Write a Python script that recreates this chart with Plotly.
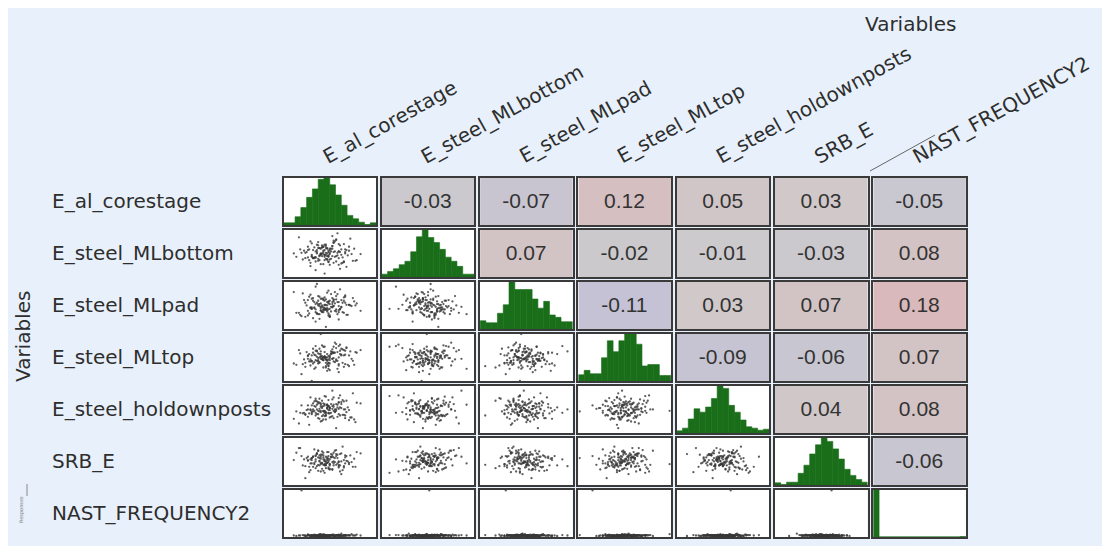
import plotly.graph_objects as go

# ---------------- data ----------------
variables = ["E_al_corestage", "E_steel_MLbottom", "E_steel_MLpad", "E_steel_MLtop",
             "E_steel_holdownposts", "SRB_E", "NAST_FREQUENCY2"]

# sample values (scaled 0-100) read as clouds from the scatter cells
E_al_corestage = [45,38,52,61,33,47,55,29,42,50, 67,40,36,58,49,44,71,31,53,46,
                  39,62,48,26,57,43,35,51,64,41, 47,54,22,59,37,49,45,68,32,56,
                  43,50,39,60,46,28,53,41,74,48, 36,57,44,63,34,51,47,40,55,30,
                  49,66,42,38,58,45,52,24,61,43, 37,50,46,56,33,48,70,41,54,39,
                  47,59,35,44,62,50,27,53,42,57, 45,36,65,49,40,52,31,48,43,55,
                  44,51,37,58,46,41,63,49,35,53, 48,42,56,39,60,45,50,33,57,47,
                  52,40,46,69,43,55,38,49,61,44, 36,54,47,41,59,50,43,65,46,52,
                  39,57,45,48,34,53,42,62,49,46]
E_steel_MLbottom = [52,44,61,37,55,48,70,41,58,33, 49,63,46,27,54,59,40,51,66,45,
                    38,56,50,74,43,57,31,53,47,62, 42,68,50,35,55,46,60,39,52,80,
                    48,57,25,44,63,51,36,58,49,41, 65,53,46,30,56,42,61,50,38,54,
                    47,72,40,59,52,34,57,45,64,49, 43,55,20,51,60,46,39,67,53,44,
                    58,48,36,62,50,41,56,69,47,33, 54,45,60,38,52,76,43,57,49,46,
                    50,57,43,62,48,39,55,45,68,52, 41,58,47,53,36,60,49,44,64,51,
                    46,55,40,57,50,71,43,52,38,59, 48,45,63,42,56,51,34,54,47,61,
                    44,53,49,58,40,66,46,52,37,55]
E_steel_MLpad = [40,55,47,62,35,51,44,68,30,57, 49,38,60,45,72,41,53,33,58,46,
                 26,63,50,39,55,43,66,48,36,52, 59,42,70,47,31,56,44,61,50,37,
                 53,45,78,40,57,34,49,64,42,55, 47,29,60,51,38,67,44,54,41,58,
                 35,50,63,46,74,43,52,39,57,48, 61,33,45,55,42,69,50,37,53,44,
                 18,58,47,40,65,52,36,56,49,43, 60,45,51,38,82,48,54,41,46,59,
                 48,41,57,44,62,50,36,55,46,59, 43,52,67,40,54,47,33,58,49,45,
                 61,38,51,56,42,64,47,53,39,50, 45,70,44,57,48,35,60,51,43,55,
                 52,40,58,46,63,49,37,54,44,50]
E_steel_MLtop = [50,43,58,36,53,47,64,40,55,31, 48,60,45,69,38,52,57,42,66,49,
                 35,54,46,61,28,51,44,59,39,56, 47,72,41,53,63,37,50,45,58,33,
                 55,49,67,42,52,25,57,46,61,40, 53,38,48,64,44,56,35,51,70,47,
                 42,59,50,33,55,46,62,39,53,48, 57,41,66,45,52,30,58,49,43,60,
                 37,54,47,68,40,51,56,44,63,50, 46,15,53,42,59,48,36,55,85,45,
                 47,55,41,60,49,44,65,52,38,57, 50,43,58,46,62,35,53,48,67,42,
                 56,45,51,39,59,47,54,33,61,49, 44,57,50,41,63,46,52,37,58,48,
                 53,40,66,45,55,49,42,60,47,51]
E_steel_holdownposts = [47,55,40,62,50,35,58,44,66,52, 38,57,45,71,49,33,60,43,54,48,
                        63,41,56,29,51,46,68,39,53,59, 44,50,36,61,47,55,42,74,49,57,
                        32,52,45,64,40,56,48,37,59,51, 43,67,54,46,27,58,41,62,50,45,
                        55,38,60,48,53,35,65,47,42,57, 50,44,70,39,56,52,31,61,46,54,
                        41,58,49,63,37,53,45,68,51,43, 59,47,34,55,50,78,42,57,48,22,
                        52,45,59,41,56,48,63,44,50,37, 57,47,53,66,42,55,49,39,60,46,
                        51,43,58,35,54,48,62,45,50,40, 56,47,69,43,52,38,59,49,45,55,
                        41,61,48,53,44,57,36,50,64,47]
SRB_E = [53,46,60,41,57,50,67,44,55,38, 49,62,52,35,58,47,64,43,56,51,
         40,59,48,70,45,54,37,61,50,56, 44,66,52,31,57,49,63,42,55,47,
         60,39,53,72,46,58,50,36,62,48, 55,43,65,51,34,57,47,61,45,53,
         41,59,50,68,44,56,38,63,52,48, 57,46,33,60,51,54,42,66,49,58,
         45,62,47,39,56,53,70,44,59,50, 36,55,48,64,43,57,25,52,46,61,
         48,56,42,61,50,45,58,39,53,47, 64,44,55,50,37,59,46,52,41,57,
         49,62,45,54,35,58,48,51,43,60, 47,55,40,66,50,44,57,46,53,38,
         59,49,45,56,42,63,51,47,54,44]
NAST_FREQUENCY2 = [2,1,3,2,4,1,2,3,1,2, 5,2,1,3,2,1,4,2,3,1,
                   2,3,1,2,1,4,2,3,2,1, 3,1,2,6,2,1,3,2,1,2,
                   1,2,3,1,2,100,1,3,2,1, 2,4,1,2,3,1,2,1,3,2,
                   1,2,5,2,1,3,2,1,2,3, 2,1,3,2,4,1,2,3,1,2,
                   3,2,1,2,1,3,2,4,1,2, 1,3,2,1,2,3,1,2,5,1,
                   2,3,1,2,4,1,3,2,1,2, 1,2,3,1,2,5,1,2,3,1,
                   3,1,2,2,1,3,4,1,2,1, 2,1,3,2,1,2,1,3,2,4,
                   1,2,1,3,2,1,2,3,1,2]

# histogram bin counts (16 bins) read from the diagonal cells
hist_E_al_corestage = [6,6,24,51,81,106,134,138,118,88,58,28,18,8,1,6]
hist_E_steel_MLbottom = [8,16,24,36,46,74,118,138,116,101,81,58,46,31,8,8]
hist_E_steel_MLpad = [24,18,18,46,71,138,116,116,116,88,61,81,41,34,21,21]
hist_E_steel_MLtop = [18,31,21,21,68,118,86,118,138,138,108,44,48,48,16,16]
hist_E_steel_holdownposts = [6,14,41,71,61,76,101,138,131,81,61,38,18,14,8,11]
hist_SRB_E = [6,1,8,8,34,58,91,118,138,128,106,76,46,28,16,8]
hist_NAST_FREQUENCY2 = [138,0,0,0,0,0,0,0,0,0,0,0,0,0,0,1]

# correlation coefficients (upper triangle, row i vs columns i+1..)
corr_row1 = [-0.03, -0.07, 0.12, 0.05, 0.03, -0.05]
corr_row2 = [0.07, -0.02, -0.01, -0.03, 0.08]
corr_row3 = [-0.11, 0.03, 0.07, 0.18]
corr_row4 = [-0.09, -0.06, 0.07]
corr_row5 = [0.04, 0.08]
corr_row6 = [-0.06]

samples = [E_al_corestage, E_steel_MLbottom, E_steel_MLpad, E_steel_MLtop,
           E_steel_holdownposts, SRB_E, NAST_FREQUENCY2]
hists = [hist_E_al_corestage, hist_E_steel_MLbottom, hist_E_steel_MLpad, hist_E_steel_MLtop,
         hist_E_steel_holdownposts, hist_SRB_E, hist_NAST_FREQUENCY2]
corrs = [corr_row1, corr_row2, corr_row3, corr_row4, corr_row5, corr_row6]

# ---------------- layout geometry (window pixel coordinates) ----------------
OFF = 8                      # page body margin
W, H = 1110 - OFF, 546 - OFF  # figure size
COL_L0, COL_W, COL_P = 283.5, 92.5, 98.3
ROW_T0, ROW_H, ROW_P = 178.0, 46.9, 52.0
N = len(variables)

def px(x):
    return (x - OFF) / W

def py(y):
    return 1 - (y - OFF) / H

def xdom(j):
    l = COL_L0 + j * COL_P
    return [px(l), px(l + COL_W)]

def ydom(i):
    t = ROW_T0 + i * ROW_P
    return [py(t + ROW_H), py(t)]

LABEL_FONT = "DejaVu Sans"
TXT = "#2e2e2e"
BG = "#E8F1FB"
GREEN = "#1A6E1A"
corr_scale = [[0, "rgb(160,162,240)"], [0.5, "rgb(206,203,204)"], [1, "rgb(236,153,157)"]]

fig = go.Figure()
layout = {}

for i in range(N):
    for j in range(N):
        k = i * N + j + 1
        xa = "x" if k == 1 else f"x{k}"
        ya = "y" if k == 1 else f"y{k}"
        axis_common = dict(showticklabels=False, showgrid=False, zeroline=False,
                           showline=True, mirror=True, linecolor="#3a3a3a", linewidth=1.5,
                           ticks="", fixedrange=True)
        if i == j:
            counts = hists[i]
            fig.add_trace(go.Bar(x=list(range(len(counts))), y=counts, width=1,
                                 marker=dict(color=GREEN, line=dict(width=0.6, color=GREEN)),
                                 xaxis=xa, yaxis=ya, showlegend=False, hoverinfo="skip"))
            xr = [-0.5, len(counts) - 0.5]
            yr = [0, max(counts)]
        elif i > j:
            fig.add_trace(go.Scatter(x=samples[j], y=samples[i], mode="markers",
                                     marker=dict(size=2.3, color="rgba(55,55,55,0.8)"),
                                     xaxis=xa, yaxis=ya, showlegend=False, hoverinfo="skip"))
            xr = [14, 86]
            yr = [-1, 101] if i == N - 1 else [15, 85]
        else:
            v = corrs[i][j - i - 1]
            fig.add_trace(go.Heatmap(z=[[v]], x=[0], y=[0], zmin=-0.5, zmax=0.5,
                                     colorscale=corr_scale, showscale=False,
                                     text=[[f"{v:.2f}"]], texttemplate="%{text}",
                                     textfont=dict(family="Liberation Sans", size=21, color="#333333"),
                                     xaxis=xa, yaxis=ya, hoverinfo="skip"))
            xr = [-0.5, 0.5]
            yr = [-0.5, 0.5]
        xname = "xaxis" if k == 1 else f"xaxis{k}"
        yname = "yaxis" if k == 1 else f"yaxis{k}"
        layout[xname] = dict(domain=xdom(j), anchor=ya, range=xr, **axis_common)
        layout[yname] = dict(domain=ydom(i), anchor=xa, range=yr, **axis_common)

annotations = []
# row labels
for i, name in enumerate(variables):
    t = ROW_T0 + i * ROW_P + ROW_H / 2
    annotations.append(dict(x=px(50), y=py(t), xref="paper", yref="paper",
                            text=name, showarrow=False, xanchor="left", yanchor="middle",
                            font=dict(family=LABEL_FONT, size=20, color=TXT)))
# column labels (rotated)
for j, name in enumerate(variables):
    cx = COL_L0 + j * COL_P + COL_W / 2
    annotations.append(dict(x=px(cx - 14), y=py(171), xref="paper", yref="paper",
                            text=name, showarrow=False, xanchor="left", yanchor="bottom",
                            textangle=-29,
                            font=dict(family=LABEL_FONT, size=20, color=TXT)))
# axis titles
annotations.append(dict(x=px(910), y=py(24), xref="paper", yref="paper", text="Variables",
                        showarrow=False, xanchor="center", yanchor="middle",
                        font=dict(family=LABEL_FONT, size=20, color=TXT)))
annotations.append(dict(x=px(23), y=py(337), xref="paper", yref="paper", text="Variables",
                        showarrow=False, xanchor="center", yanchor="middle", textangle=-90,
                        font=dict(family=LABEL_FONT, size=20, color=TXT)))
annotations.append(dict(x=px(21), y=py(510), xref="paper", yref="paper", text="Responses",
                        showarrow=False, xanchor="center", yanchor="middle", textangle=-90,
                        font=dict(family=LABEL_FONT, size=5, color="#777777")))

shapes = [
    dict(type="line", xref="paper", yref="paper", x0=px(27), x1=px(27),
         y0=py(496), y1=py(484), line=dict(color="#888888", width=1)),
    dict(type="line", xref="paper", yref="paper", x0=px(870), x1=px(935),
         y0=py(171), y1=py(135), line=dict(color="#666666", width=1)),
]

fig.update_layout(width=W, height=H, margin=dict(l=0, r=0, t=0, b=0),
                  paper_bgcolor=BG, plot_bgcolor="white",
                  annotations=annotations, shapes=shapes, **layout)

fig.write_html("out.html")
